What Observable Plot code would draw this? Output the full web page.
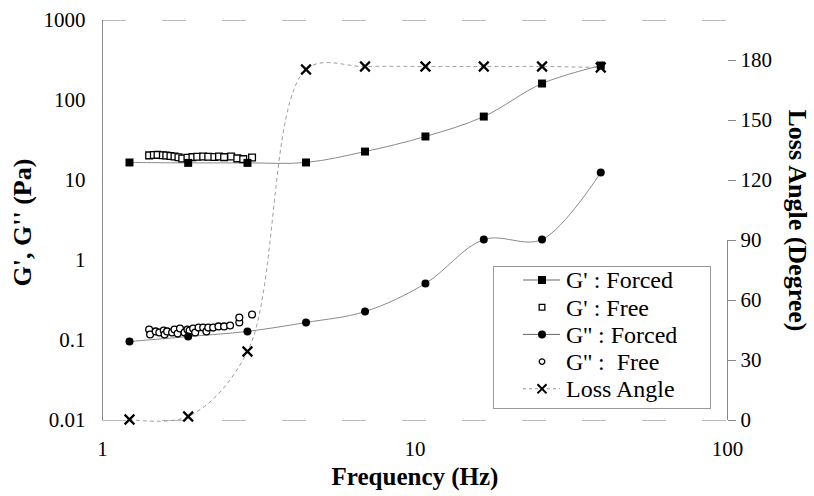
<!DOCTYPE html>
<html><head><meta charset="utf-8">
<script src="https://cdn.jsdelivr.net/npm/d3@7"></script>
<script src="https://cdn.jsdelivr.net/npm/@observablehq/plot@0.6"></script>
<style>
body{margin:0;background:#fff;font-family:"Liberation Serif",serif;}
#wrap{position:relative;width:814px;height:496px;}
#legend{position:absolute;left:493px;top:266px;}
</style></head><body><div id="wrap"><div id="legend"></div></div>
<script>
// ---- data ----
const forcedFreq = [1.22, 1.88, 2.91, 4.48, 6.92, 10.8, 16.6, 25.5, 39.3];
const gPrimeForced = [16.8, 16.6, 16.6, 16.8, 23.0, 35.5, 63, 163, 274];
const gDoublePrimeForced = [0.097, 0.112, 0.13, 0.168, 0.23, 0.516, 1.83, 1.83, 12.6];
const lossAngleDeg = [0.5, 2, 34.5, 175.5, 177, 177, 177, 177, 176.5];

const gPrimeFreeFreq = [1.41,1.46,1.50,1.56,1.60,1.65,1.70,1.75,1.80,1.87,1.94,2.01,2.10,2.18,2.28,2.36,2.45,2.58,2.70,2.82,3.01];
const gPrimeFree = [20.6,20.8,20.9,20.7,20.5,20.2,20.0,19.5,18.8,19.2,19.6,19.8,19.9,19.8,19.7,19.9,19.6,19.9,18.9,18.5,19.4];

const gDoublePrimeFreeFreq = [1.41,1.42,1.48,1.52,1.57,1.58,1.61,1.67,1.70,1.74,1.77,1.83,1.87,1.90,1.95,1.98,2.03,2.10,2.15,2.18,2.26,2.35,2.45,2.56,2.74,2.74,3.01];
const gDoublePrimeFree = [0.137,0.119,0.130,0.126,0.133,0.119,0.130,0.126,0.137,0.122,0.141,0.126,0.137,0.133,0.141,0.126,0.145,0.145,0.130,0.145,0.145,0.150,0.150,0.154,0.168,0.194,0.211];

const xTicks = [1, 10, 100];
const leftTicks = [0.01, 0.1, 1, 10, 100, 1000];
const rightTicks = [0, 30, 60, 90, 120, 150, 180];
const legendLabels = ["G' : Forced", "G' : Free", "G'' : Forced", "G'' :  Free", "Loss Angle"];
const xTitle = "Frequency (Hz)";
const yTitle = "G', G'' (Pa)";
const y2Title = "Loss Angle (Degree)";

const serifName = "Liberation Serif";

// secondary axis: 0..200 degrees spans the 5 decades of the left axis
const deg2y = d => Math.pow(10, -2 + d / 40);

const forced = forcedFreq.map((f, i) => ({f, gp: gPrimeForced[i], gpp: gDoublePrimeForced[i], la: deg2y(lossAngleDeg[i])}));
const gpFree = gPrimeFreeFreq.map((f, i) => ({f, v: gPrimeFree[i]}));
const gppFree = gDoublePrimeFreeFreq.map((f, i) => ({f, v: gDoublePrimeFree[i]}));
const lineColor = "#8a8a8a";

const chart = Plot.plot({
  width: 814, height: 496,
  marginLeft: 102, marginRight: 87, marginTop: 20, marginBottom: 76,
  style: {fontSize: "21px", color: "#000", background: "#fff"},
  x: {type: "log", domain: [1, 100]},
  y: {type: "log", domain: [0.01, 1000]},
  marks: [
    Plot.ruleY([0.01, 1000], {stroke: "#bbb", strokeDasharray: "24,36"}),
    Plot.ruleX([1], {stroke: "#888"}),
    Plot.ruleX([100], {y1: deg2y(0), y2: deg2y(90), stroke: "#888"}),
    Plot.axisX(xTicks, {tickSize: 0, tickPadding: 21, tickFormat: d => String(d), label: null, fontSize: 21}),
    Plot.axisY(leftTicks, {anchor: "left", tickSize: 0, tickPadding: 17, tickFormat: d => String(d), label: null, fontSize: 21}),
    Plot.axisY(rightTicks.map(deg2y), {anchor: "right", tickSize: 8, tickFormat: () => "", stroke: "#888", label: null}),
    Plot.text(rightTicks, {y: deg2y, text: d => String(d), frameAnchor: "right", dx: 13, textAnchor: "start", fontSize: 21}),
    Plot.line(forced, {x: "f", y: "la", curve: "catmull-rom", stroke: "#999", strokeWidth: 1, strokeDasharray: "3,4"}),
    Plot.line(forced, {x: "f", y: "gp", curve: "catmull-rom", stroke: lineColor, strokeWidth: 1}),
    Plot.line(forced, {x: "f", y: "gpp", curve: "catmull-rom", stroke: lineColor, strokeWidth: 1}),
    Plot.dot(gpFree, {x: "f", y: "v", symbol: "square", r: 3.8, fill: "white", stroke: "black", strokeWidth: 1.3}),
    Plot.dot(gppFree, {x: "f", y: "v", symbol: "circle", r: 3.4, fill: "white", stroke: "black", strokeWidth: 1.3}),
    Plot.dot(forced, {x: "f", y: "gp", symbol: "square", r: 4.5, fill: "black", stroke: "none"}),
    Plot.dot(forced, {x: "f", y: "gpp", symbol: "circle", r: 4, fill: "black", stroke: "none"}),
    Plot.dot(forced, {x: "f", y: "la", symbol: "times", r: 4.5, stroke: "black", strokeWidth: 2.2}),
    Plot.text([xTitle], {text: d => d, frameAnchor: "bottom", dy: 64, textAnchor: "middle", fontSize: 25, fontWeight: "bold"}),
    Plot.text([yTitle], {text: d => d, frameAnchor: "left", dx: -80, dy: 2, rotate: -90, textAnchor: "middle", fontSize: 26, fontWeight: "bold"}),
    Plot.text([y2Title], {text: d => d, frameAnchor: "right", dx: 70, rotate: 90, textAnchor: "middle", fontSize: 26, fontWeight: "bold"})
  ]
});
chart.setAttribute("font-family", serifName);
chart.style.fontFamily = `"${serifName}", serif`;
chart.querySelectorAll("g, text").forEach(t => t.setAttribute("font-family", serifName));
document.getElementById("wrap").prepend(chart);

// ---- legend ----
const lw = 217, lh = 142;
const lg = d3.select("#legend").append("svg").attr("width", lw + 2).attr("height", lh + 2)
  .attr("font-family", serifName).style("font-family", `"${serifName}", serif`);
lg.append("rect").attr("x", 0.5).attr("y", 0.5).attr("width", lw).attr("height", lh)
  .attr("fill", "white").attr("stroke", "#999");
const kinds = [
  {line: "solid", sym: d3.symbolSquare, size: Math.PI * 4.5 * 4.5, fill: "black"},
  {line: null, sym: d3.symbolSquare, size: Math.PI * 3.2 * 3.2, fill: "white"},
  {line: "solid", sym: d3.symbolCircle, size: Math.PI * 4 * 4, fill: "black"},
  {line: null, sym: d3.symbolCircle, size: Math.PI * 2.8 * 2.8, fill: "white"},
  {line: "dash", sym: d3.symbolTimes, size: Math.PI * 4.2 * 4.2, fill: "none"}
];
legendLabels.forEach((lab, i) => {
  const cy = 14 + i * 27.2, k = kinds[i];
  const g = lg.append("g").attr("transform", `translate(0,${cy})`);
  if (k.line) g.append("line").attr("x1", 30).attr("x2", 67).attr("stroke", k.line === "dash" ? "#999" : "#666")
    .attr("stroke-dasharray", k.line === "dash" ? "3,3" : null);
  g.append("path").attr("transform", "translate(49,0)").attr("d", d3.symbol(k.sym, k.size)())
    .attr("fill", k.fill === "none" ? "none" : k.fill)
    .attr("stroke", "black").attr("stroke-width", k.fill === "none" ? 2 : (k.fill === "white" ? 1.3 : 0));
  g.append("text").attr("x", 73).attr("dy", "0.35em").attr("font-size", 24).style("white-space", "pre")
    .attr("font-family", serifName).text(lab);
});
</script>
</body></html>
